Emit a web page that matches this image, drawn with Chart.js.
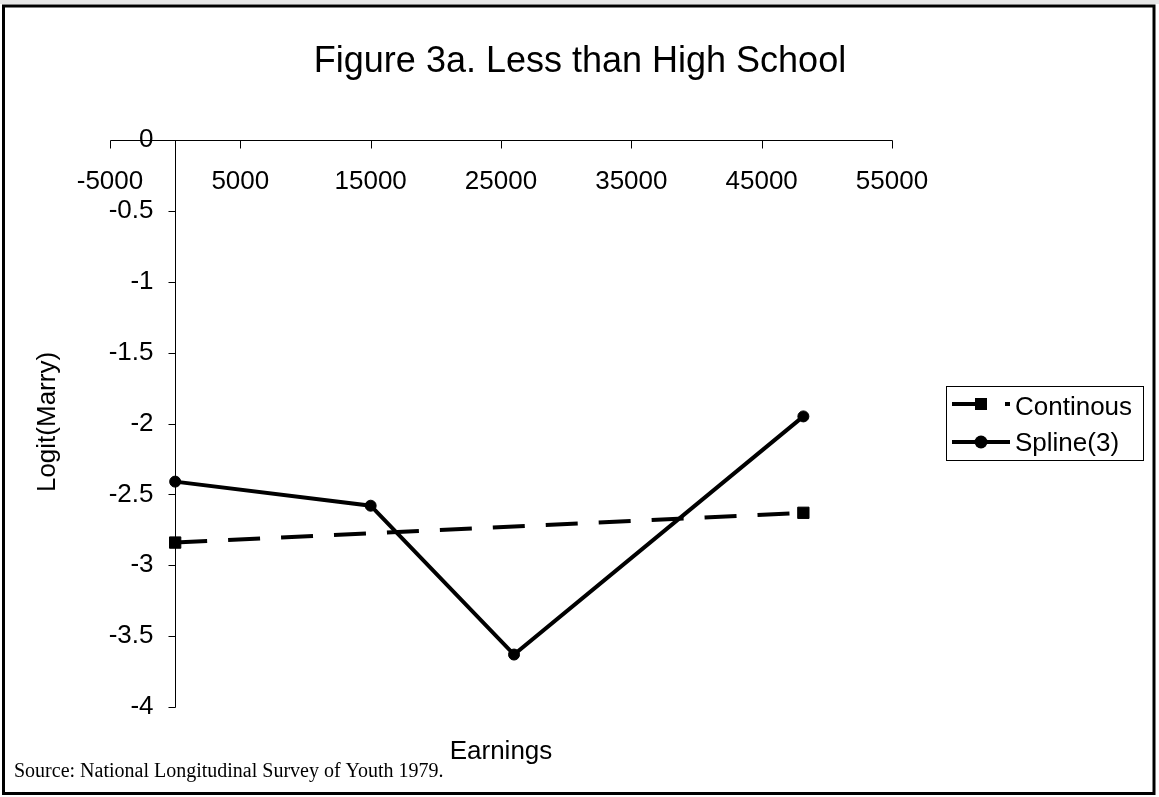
<!DOCTYPE html>
<html>
<head>
<meta charset="utf-8">
<title>Figure 3a. Less than High School</title>
<script src="https://cdn.jsdelivr.net/npm/chart.js@4.4.1/dist/chart.umd.min.js"></script>
<style>
    body { margin: 0; background: #ffffff; overflow: hidden; }
    #chart { display: block; }
</style>
</head>
<body>
<canvas id="chart" width="1159" height="797"></canvas>
<script>
// values
var contEarnings = [0, 48200];
var contLogit = [-2.84, -2.63];
var splineEarnings = [0, 15000, 26000, 48200];
var splineLogit = [-2.41, -2.58, -3.63, -1.95];
var seriesNames = ["Continous", "Spline(3)"];

var xTickValues = [-5000, 5000, 15000, 25000, 35000, 45000, 55000];
var yTickValues = [0, -0.5, -1, -1.5, -2, -2.5, -3, -3.5, -4];

var titleText = "Figure 3a. Less than High School";
var xTitle = "Earnings";
var yTitle = "Logit(Marry)";
var sourceText = "Source: National Longitudinal Survey of Youth 1979.";

var sans = "'Liberation Sans', Arial, sans-serif";
var serif = "'Liberation Serif', 'Times New Roman', serif";

function toPoints(xs, ys) {
    var pts = [];
    for (var i = 0; i < xs.length; i++) {
        pts.push({ x: xs[i], y: ys[i] });
    }
    return pts;
}

/////////////// frame, titles, axes, legend ///////////////
var excelLook = {
    id: 'excelLook',
    beforeDraw: function (chart) {
        var ctx = chart.ctx;
        ctx.save();
        ctx.fillStyle = '#ffffff';
        ctx.fillRect(0, 0, chart.width, chart.height);
        ctx.fillStyle = '#e6e6e6';
        ctx.fillRect(0, 0, chart.width, 4);
        ctx.restore();
    },
    beforeDatasetsDraw: function (chart) {
        var ctx = chart.ctx;
        var xs = chart.scales.x, ys = chart.scales.y;
        var x0 = Math.round(xs.getPixelForValue(0)) + 0.5;
        var y0 = Math.round(ys.getPixelForValue(0)) + 0.5;
        var i, px, py;

        ctx.save();
        ctx.strokeStyle = '#000000';
        ctx.lineWidth = 1;

        // x axis sits on y = 0
        ctx.beginPath();
        ctx.moveTo(Math.round(xs.getPixelForValue(xTickValues[0])) + 0.5, y0);
        ctx.lineTo(Math.round(xs.getPixelForValue(xTickValues[xTickValues.length - 1])) + 0.5, y0);
        for (i = 0; i < xTickValues.length; i++) {
            px = Math.round(xs.getPixelForValue(xTickValues[i])) + 0.5;
            ctx.moveTo(px, y0);
            ctx.lineTo(px, y0 + 8);
        }
        // y axis sits on x = 0
        ctx.moveTo(x0, Math.round(ys.getPixelForValue(yTickValues[0])) + 0.5);
        ctx.lineTo(x0, Math.round(ys.getPixelForValue(yTickValues[yTickValues.length - 1])) + 0.5);
        for (i = 0; i < yTickValues.length; i++) {
            py = Math.round(ys.getPixelForValue(yTickValues[i])) + 0.5;
            ctx.moveTo(x0 - 7, py);
            ctx.lineTo(x0, py);
        }
        ctx.stroke();

        ctx.fillStyle = '#000000';
        ctx.font = '26px ' + sans;
        ctx.textAlign = 'center';
        ctx.textBaseline = 'alphabetic';
        for (i = 0; i < xTickValues.length; i++) {
            ctx.fillText(String(xTickValues[i]), xs.getPixelForValue(xTickValues[i]), y0 + 48);
        }
        ctx.textAlign = 'right';
        ctx.textBaseline = 'middle';
        for (i = 0; i < yTickValues.length; i++) {
            ctx.fillText(String(yTickValues[i]), x0 - 22, ys.getPixelForValue(yTickValues[i]));
        }
        ctx.restore();
    },
    afterDraw: function (chart) {
        var ctx = chart.ctx;
        var area = chart.chartArea;
        ctx.save();

        // outer frame
        ctx.strokeStyle = '#000000';
        ctx.lineWidth = 3;
        ctx.strokeRect(3.5, 6, 1150.5, 787.5);

        ctx.fillStyle = '#000000';
        ctx.font = '36px ' + sans;
        ctx.textAlign = 'center';
        ctx.textBaseline = 'alphabetic';
        ctx.fillText(titleText, 580, 72);

        ctx.font = '26px ' + sans;
        ctx.fillText(xTitle, (area.left + area.right) / 2, 759);

        ctx.save();
        ctx.translate(48, 422);
        ctx.rotate(-Math.PI / 2);
        ctx.textBaseline = 'middle';
        ctx.fillText(yTitle, 0, 0);
        ctx.restore();

        ctx.font = '20px ' + serif;
        ctx.textAlign = 'left';
        ctx.fillText(sourceText, 14, 777);

        ////////// legend box //////////
        ctx.lineWidth = 1;
        ctx.strokeRect(946.5, 386.5, 197, 74);
        var rows = [404, 442];
        var texts = [415, 451];
        for (var i = 0; i < 2; i++) {
            var ds = chart.data.datasets[i];
            ctx.beginPath();
            ctx.lineWidth = ds.borderWidth;
            ctx.setLineDash(ds.borderDash || []);
            ctx.moveTo(952, rows[i]);
            ctx.lineTo(1010, rows[i]);
            ctx.stroke();
            ctx.setLineDash([]);
            if (ds.pointStyle === 'rect') {
                ctx.fillRect(981 - 6, rows[i] - 6, 12, 12);
            } else {
                ctx.beginPath();
                ctx.arc(981, rows[i], 6.5, 0, Math.PI * 2);
                ctx.fill();
            }
            ctx.font = '26px ' + sans;
            ctx.textAlign = 'left';
            ctx.fillText(ds.label, 1015, texts[i]);
        }
        ctx.restore();
    }
};

var data = {
    datasets: [
        {
            label: seriesNames[0],
            data: toPoints(contEarnings, contLogit),
            borderColor: '#000000',
            backgroundColor: '#000000',
            borderWidth: 4,
            borderDash: [32, 21],
            pointStyle: 'rect',
            pointRadius: 8,
            pointBorderWidth: 1
        },
        {
            label: seriesNames[1],
            data: toPoints(splineEarnings, splineLogit),
            borderColor: '#000000',
            backgroundColor: '#000000',
            borderWidth: 4,
            pointStyle: 'circle',
            pointRadius: 5.5,
            pointBorderWidth: 1
        }
    ]
};

var options = {
    responsive: false,
    devicePixelRatio: 1,
    animation: false,
    layout: { padding: { left: 110, right: 267, top: 140, bottom: 90 } },
    scales: {
        x: { type: 'linear', min: -5000, max: 55000, display: false },
        y: { type: 'linear', min: -4, max: 0, display: false }
    },
    plugins: {
        legend: { display: false },
        title: { display: false },
        tooltip: { enabled: false }
    },
    elements: { line: { tension: 0 } }
};

var chart = new Chart(document.getElementById('chart').getContext('2d'), {
    type: 'line',
    data: data,
    options: options,
    plugins: [excelLook]
});
</script>
</body>
</html>
